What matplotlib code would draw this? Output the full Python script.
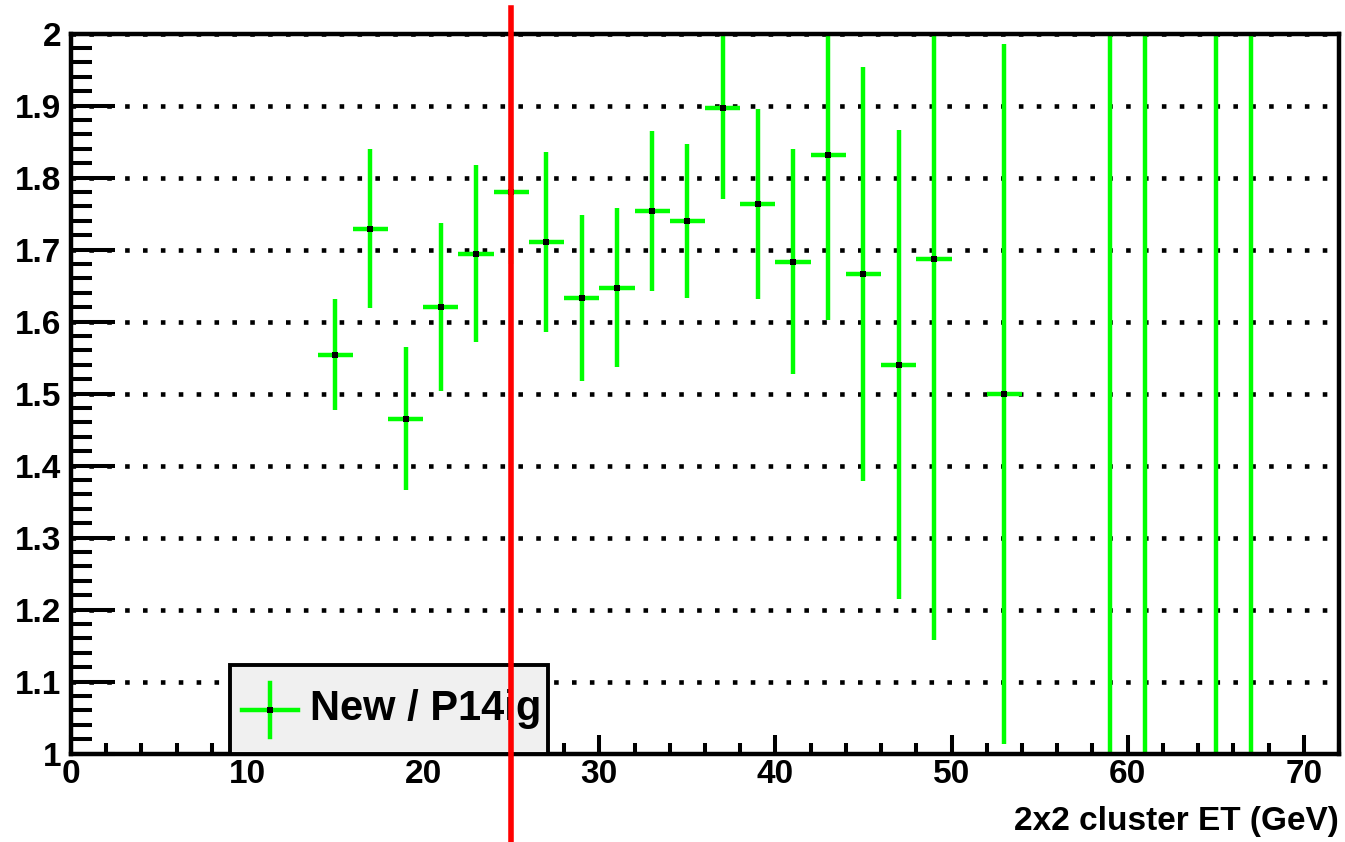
import matplotlib
matplotlib.use("Agg")
import matplotlib.pyplot as plt
from matplotlib.patches import Rectangle
from matplotlib.lines import Line2D
from matplotlib.ticker import MultipleLocator

# ---- data ----
bin_centers = [15, 17, 19, 21, 23, 25, 27, 29, 31, 33, 35, 37, 39, 41, 43, 45, 47, 49, 53, 59, 61, 65, 67]
ratio = [1.554, 1.729, 1.465, 1.620, 1.694, 1.780, 1.711, 1.633, 1.647, 1.754, 1.740, 1.896,
         1.763, 1.683, 1.831, 1.666, 1.540, 1.687, 1.499, 2.6, 0.6, 2.8, 0.5]
ratio_err = [0.077, 0.110, 0.099, 0.117, 0.123, 0.100, 0.125, 0.115, 0.110, 0.111, 0.107, 0.126,
             0.132, 0.156, 0.229, 0.287, 0.326, 0.530, 0.486, 1.8, 1.6, 2.0, 1.7]
bin_half_width = [1.0] * len(bin_centers)
cut_value = 25
legend_label = "New / P14ig"
x_label = "2x2 cluster ET (GeV)"
x_range = (0, 72)
y_range = (1, 2)

FONT = "Liberation Sans"
GREEN = "#00ff00"

fig = plt.figure(figsize=(13.45, 8.42), dpi=100)
ax = fig.add_axes([0.0528, 0.1051, 0.9955 - 0.0528, 0.9602 - 0.1051])
ax.set_xlim(*x_range)
ax.set_ylim(*y_range)

# grid (horizontal dotted)
ax.yaxis.grid(True, which="major", color="black", linewidth=3.3,
              linestyle=(0, (1, 2.9)), zorder=1)
ax.xaxis.grid(False)
ax.set_axisbelow(True)

# data
ax.errorbar(bin_centers, ratio, yerr=ratio_err, xerr=bin_half_width, fmt="none",
            ecolor=GREEN, elinewidth=3.2, capsize=0, zorder=3)
ax.plot(bin_centers, ratio, linestyle="none", marker="s", markersize=4.0,
        color="black", markeredgewidth=0, zorder=4)

# ticks
ax.xaxis.set_major_locator(MultipleLocator(10))
ax.xaxis.set_minor_locator(MultipleLocator(2))
ax.yaxis.set_major_locator(MultipleLocator(0.1))
ax.yaxis.set_minor_locator(MultipleLocator(0.02))
ax.tick_params(axis="both", which="both", direction="in", width=2.9,
               top=False, right=False)
ax.tick_params(axis="y", which="major", length=32, pad=7)
ax.tick_params(axis="y", which="minor", length=15)
ax.tick_params(axis="x", which="major", length=14, pad=4)
ax.tick_params(axis="x", which="minor", length=8)

ax.set_yticklabels([("%g" % v) for v in ax.get_yticks()])
for lab in ax.get_xticklabels() + ax.get_yticklabels():
    lab.set_fontfamily(FONT)
    lab.set_fontweight("bold")
    lab.set_fontsize(24)

for sp in ax.spines.values():
    sp.set_linewidth(3.2)
    sp.set_zorder(6)

# x label
ax.text(1.0, -0.095, x_label, transform=ax.transAxes, ha="right", va="center",
        fontfamily=FONT, fontweight="bold", fontsize=24)

# legend box (drawn manually in data coordinates)
box = Rectangle((9.03, 1.0), 27.1 - 9.03, 1.123 - 1.0, facecolor="#f0f0f0",
                edgecolor="black", linewidth=2.8, zorder=7, clip_on=False)
ax.add_patch(box)
ax.add_line(Line2D([11.3 - 1.59, 11.3 + 1.59], [1.0604, 1.0604], color=GREEN,
                   linewidth=3.2, zorder=8, clip_on=False))
ax.add_line(Line2D([11.3, 11.3], [1.0604 - 0.0375, 1.0604 + 0.0375], color=GREEN,
                   linewidth=3.2, zorder=8, clip_on=False))
ax.plot([11.3], [1.0604], marker="s", markersize=4.0, color="black",
        markeredgewidth=0, zorder=9, clip_on=False)
ax.text(13.58, 1.062, legend_label, ha="left", va="center", fontfamily=FONT,
        fontweight="bold", fontsize=30, zorder=9)

# red cut line
ax.add_line(Line2D([cut_value, cut_value], [2.035, 0.80], color="#ff0000",
                   linewidth=4, zorder=10, clip_on=False))

fig.savefig("out.png", dpi=100)
